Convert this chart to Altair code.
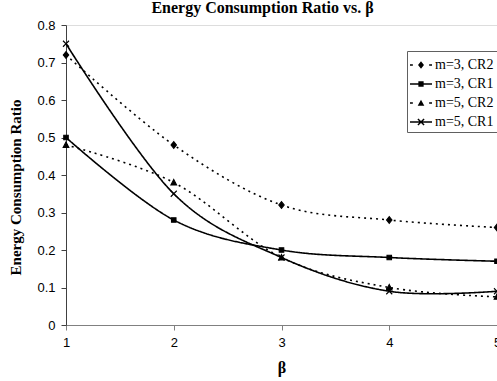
import altair as alt
import pandas as pd

beta = [1, 2, 3, 4, 5]
series_names = ["m=3, CR2", "m=3, CR1", "m=5, CR2", "m=5, CR1"]
m3_cr2 = [0.72, 0.48, 0.32, 0.28, 0.26]
m3_cr1 = [0.50, 0.28, 0.20, 0.18, 0.17]
m5_cr2 = [0.48, 0.38, 0.18, 0.10, 0.075]
m5_cr1 = [0.75, 0.35, 0.18, 0.09, 0.09]
y_ticks = [0, 0.1, 0.2, 0.3, 0.4, 0.5, 0.6, 0.7, 0.8]

rows = []
for name, vals in zip(series_names, [m3_cr2, m3_cr1, m5_cr2, m5_cr1]):
    for b, v in zip(beta, vals):
        rows.append({"beta": b, "ratio": v, "series": name})
df = pd.DataFrame(rows)

# marker shapes (custom SVG paths, unit coordinates)
diamond = "M0,-1.1L0.9,0L0,1.1L-0.9,0Z"
square = "M-0.75,-0.75L0.75,-0.75L0.75,0.75L-0.75,0.75Z"
triangle = "M0,-1L0.95,0.8L-0.95,0.8Z"
xmark = "M-1,-1L1,1M-1,1L1,-1"

# legend symbols: filled line segment + small filled marker (all clockwise)
h = 0.068
solid = f"M-1,{-h}L1,{-h}L1,{h}L-1,{h}Z"
dots = (f"M-1,{-h}L-0.74,{-h}L-0.74,{h}L-1,{h}Z"
        f"M0.74,{-h}L1,{-h}L1,{h}L0.74,{h}Z")
leg_diamond = "M0,-0.34L0.27,0L0,0.34L-0.27,0Z"
leg_square = "M-0.24,-0.24L0.24,-0.24L0.24,0.24L-0.24,0.24Z"
leg_triangle = "M0,-0.3L0.3,0.25L-0.3,0.25Z"
leg_x = ("M-0.234,-0.326L0.326,0.234L0.234,0.326L-0.326,-0.234Z"
         "M0.326,-0.234L-0.234,0.326L-0.326,0.234L0.234,-0.326Z")
legend_paths = [
    dots + leg_diamond,
    solid + leg_square,
    dots + leg_triangle,
    solid + leg_x,
]

x_axis = alt.Axis(
    title="β", values=beta, format="d", grid=False, labelFlush=False,
    labelOverlap=False, tickSize=5, labelPadding=6, domainColor="#808080",
    tickColor="#808080", labelFont="Liberation Sans", labelFontSize=13,
    labelColor="black", titleFont="Liberation Serif", titleFontSize=16,
    titleFontWeight="bold", titleBaseline="middle", titleY=42, titleColor="black",
)
y_axis = alt.Axis(
    title="Energy Consumption Ratio", values=y_ticks, tickCount=9, format="~g",
    grid=False, labelFlush=False, labelOverlap=False, tickSize=5, labelPadding=6,
    domainColor="#404040", tickColor="#404040", labelFont="Liberation Sans",
    labelFontSize=13, labelColor="black", titleFont="Liberation Serif",
    titleFontSize=15, titleFontWeight="bold", titleBaseline="middle",
    titleX=-51, titleY=162, titleAngle=-90, titleColor="black",
)
x_enc = alt.X("beta:Q", scale=alt.Scale(domain=[1, 5], nice=False), axis=x_axis)
y_enc = alt.Y("ratio:Q", scale=alt.Scale(domain=[0, 0.8], nice=False), axis=y_axis)

lines = alt.Chart(df).mark_line(
    interpolate="cardinal", color="black", strokeWidth=1.6
).encode(
    x=x_enc,
    y=y_enc,
    detail="series:N",
    strokeDash=alt.StrokeDash(
        "series:N",
        scale=alt.Scale(domain=series_names, range=[[2, 4], [1, 0], [2, 4], [1, 0]]),
        legend=None,
    ),
)

points = alt.Chart(df).mark_point(
    filled=False, fill="black", stroke="black", strokeWidth=1.1, opacity=1, size=36
).encode(
    x=x_enc,
    y=y_enc,
    shape=alt.Shape(
        "series:N",
        scale=alt.Scale(domain=series_names, range=[diamond, square, triangle, xmark]),
        legend=None,
    ),
)

legend_layer = alt.Chart(df).mark_point(
    filled=True, color="black", opacity=1, size=484
).encode(
    shape=alt.Shape(
        "series:N",
        scale=alt.Scale(domain=series_names, range=legend_paths),
        legend=alt.Legend(
            title=None, orient="none", legendX=341, legendY=26,
            padding=3, strokeColor="#606060", fillColor="white",
            symbolSize=484, symbolFillColor="black", symbolOpacity=1,
            symbolStrokeWidth=0,
            labelFont="Liberation Serif", labelFontSize=14, labelColor="black",
            labelOffset=3, rowPadding=1,
        ),
    ),
).transform_filter("false")

chart = alt.layer(lines, points, legend_layer).resolve_scale(
    shape="independent"
).properties(
    width=431,
    height=300,
    padding={"left": 66, "top": 25, "right": 0, "bottom": 56},
    autosize=alt.AutoSizeParams(type="none"),
    title=alt.TitleParams(
        "Energy Consumption Ratio vs. β", font="Liberation Serif", fontSize=16,
        fontWeight="bold", anchor="middle", frame="group", dx=-19, dy=6, offset=9,
        color="black",
    ),
).configure_view(stroke="#909090", strokeWidth=1).configure(background="white")

chart.save("out.html", embed_options={"renderer": "svg", "actions": False})
